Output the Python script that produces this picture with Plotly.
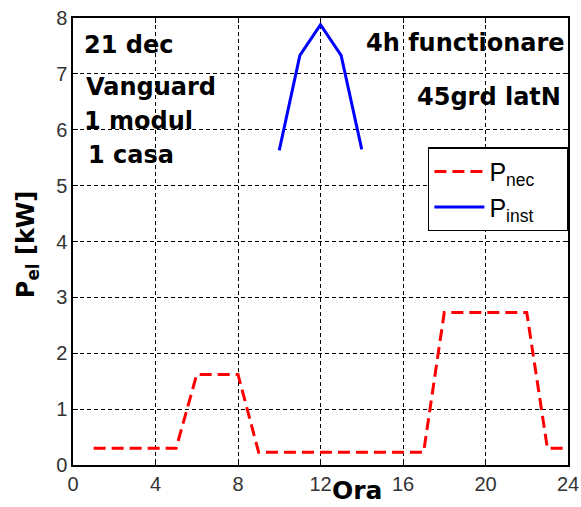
import plotly.graph_objects as go

# Data
ora_nec = [1, 2, 3, 4, 5, 6, 7, 8, 9, 10, 11, 12, 13, 14, 15, 16, 17, 18, 19, 20, 21, 22, 23, 24]
p_nec = [0.3, 0.3, 0.3, 0.3, 0.3, 1.62, 1.62, 1.62, 0.23, 0.23, 0.23, 0.23, 0.23, 0.23, 0.23, 0.23, 0.23,
         2.73, 2.73, 2.73, 2.73, 2.73, 0.3, 0.3]
ora_inst = [10, 11, 12, 13, 14]
p_inst = [5.63, 7.33, 7.88, 7.33, 5.65]
x_ticks = [0, 4, 8, 12, 16, 20, 24]
y_ticks = [0, 1, 2, 3, 4, 5, 6, 7, 8]

fig = go.Figure()
fig.add_trace(go.Scatter(x=ora_nec, y=p_nec, mode="lines", name="P<sub>nec</sub>\u00a0\u00a0\u00a0\u00a0",
                         line=dict(color="#ff0000", width=3, dash="12px,6px")))
fig.add_trace(go.Scatter(x=ora_inst, y=p_inst, mode="lines", name="P<sub>inst</sub>\u00a0\u00a0\u00a0\u00a0",
                         line=dict(color="#0000ff", width=3)))

axis_common = dict(showline=True, linecolor="black", linewidth=1.5, mirror="ticks",
                   ticks="inside", ticklen=5, tickcolor="black", automargin=False,
                   showgrid=True, gridcolor="black", griddash="4px,3px", gridwidth=1,
                   zeroline=False, tickfont=dict(family="Arial, Liberation Sans", size=20, color="#333333"))

fig.update_xaxes(range=[0, 24], tickvals=x_ticks, **axis_common)
fig.update_yaxes(range=[0, 8], tickvals=y_ticks, **axis_common)

ann_font = dict(family="DejaVu Sans", size=24, color="black")
annotations = [
    dict(x=0.018, y=0.940, text="<b>21 dec</b>", xanchor="left"),
    dict(x=0.022, y=0.846, text="<b>Vanguard</b>", xanchor="left"),
    dict(x=0.018, y=0.770, text="<b>1 modul</b>", xanchor="left"),
    dict(x=0.026, y=0.694, text="<b>1 casa</b>", xanchor="left"),
    dict(x=0.998, y=0.944, text="<b>4h functionare</b>", xanchor="right"),
    dict(x=0.990, y=0.823, text="<b>45grd latN</b>", xanchor="right"),
]
for a in annotations:
    fig.add_annotation(xref="paper", yref="paper", yanchor="middle", showarrow=False,
                       font=ann_font, bgcolor="rgba(0,0,0,0)", **a)

fig.add_annotation(xref="paper", yref="paper", x=0.574, y=-0.056, text="<b>Ora</b>",
                   showarrow=False, yanchor="middle", xanchor="center",
                   font=dict(family="DejaVu Sans", size=25, color="black"))
fig.add_annotation(xref="paper", yref="paper", x=-0.093, y=0.494, text="<b>P<sub>el</sub> [kW]</b>",
                   showarrow=False, textangle=-90, xanchor="center", yanchor="middle",
                   font=dict(family="DejaVu Sans", size=24, color="black"))

fig.update_layout(
    width=581, height=507,
    margin=dict(l=73, r=13, t=18, b=42),
    plot_bgcolor="white", paper_bgcolor="white",
    showlegend=True,
    legend=dict(x=0.717, y=0.711, xanchor="left", yanchor="top",
                bordercolor="black", borderwidth=1.5, bgcolor="white",
                font=dict(family="Arial, Liberation Sans", size=25, color="black"),
                itemwidth=50, tracegroupgap=0),
)

fig.write_html("out.html", config={"displayModeBar": False},
               post_script="document.body.style.margin='0px';document.body.style.padding='0px';")
